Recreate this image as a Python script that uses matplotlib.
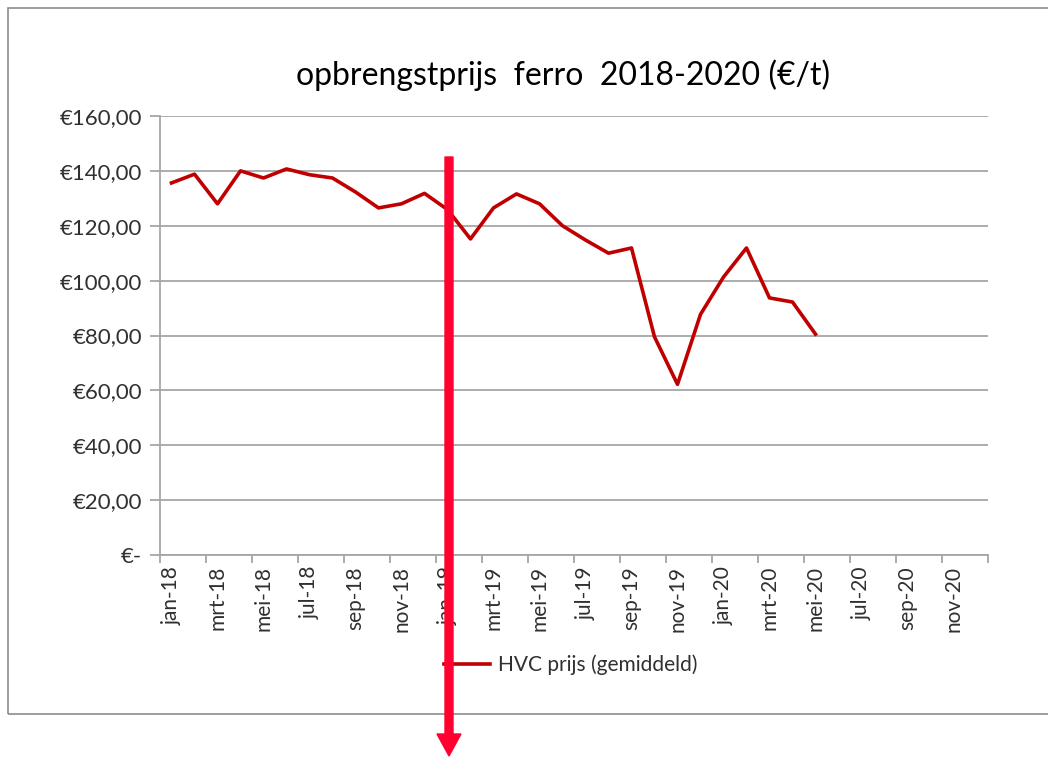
import matplotlib
matplotlib.use("Agg")
import matplotlib.pyplot as plt
from matplotlib.patches import Rectangle, FancyArrow

plt.rcParams['font.family'] = ['Lato', 'DejaVu Sans']

# maanden jan-18 t/m dec-20
months = ['jan', 'feb', 'mrt', 'apr', 'mei', 'jun', 'jul', 'aug', 'sep', 'okt', 'nov', 'dec']
categories = [m + '-' + y for y in ['18', '19', '20'] for m in months]

# HVC prijs (gemiddeld), jan-18 t/m mei-20
prices = [135.6, 138.8, 128.0, 140.0, 137.4, 140.7, 138.6, 137.4, 132.3, 126.5,
          128.0, 131.8, 125.9, 115.2, 126.5, 131.6, 128.0, 120.0, 114.8, 110.0,
          111.9, 79.5, 62.2, 87.7, 101.3, 111.9, 93.7, 92.2, 80.5]

yticks = [0, 20, 40, 60, 80, 100, 120, 140, 160]
ytick_labels = ['€-', '€20,00', '€40,00', '€60,00', '€80,00', '€100,00',
                '€120,00', '€140,00', '€160,00']

W, H = 1048, 757
fig = plt.figure(figsize=(W / 100, H / 100), dpi=100)
ax = fig.add_axes([160 / W, 1 - 555 / H, 828 / W, 439 / H])

grid_col = '#a6a6a6'
ax.plot(range(len(prices)), prices, color='#c00000', linewidth=2.6,
        label='HVC prijs (gemiddeld)', zorder=3)

ax.set_xlim(-0.5, len(categories) - 0.5)
ax.set_ylim(0, 160)
ax.set_yticks(yticks)
ax.set_yticklabels(ytick_labels)
ax.yaxis.grid(True, color=grid_col, linewidth=1.3)
ax.set_axisbelow(True)

# labels op elke tweede maand, streepjes op de grenzen
ax.set_xticks(range(0, len(categories), 2))
ax.set_xticklabels(categories[::2], rotation=90)
ax.set_xticks([i - 0.5 for i in range(0, len(categories) + 1, 2)], minor=True)
ax.tick_params(axis='x', which='major', length=0, pad=8, labelsize=15, colors='#303030')
ax.tick_params(axis='x', which='minor', length=6, color=grid_col, width=1.3)
ax.tick_params(axis='y', length=7, color=grid_col, width=1.3, labelsize=16,
               labelcolor='#303030', pad=6)

for s in ['top', 'right']:
    ax.spines[s].set_visible(False)
for s in ['left', 'bottom']:
    ax.spines[s].set_color(grid_col)
    ax.spines[s].set_linewidth(1.3)

fig.text(563 / W, 1 - 75 / H, 'opbrengstprijs  ferro  2018-2020 (€/t)',
         ha='center', va='center', fontsize=23, color='#000000')

ax.legend(loc='center', bbox_to_anchor=(571 / W, 1 - 665 / H),
          bbox_transform=fig.transFigure, frameon=False, fontsize=15,
          handlelength=2.2, handletextpad=0.4, labelcolor='#303030')

# kader rond de grafiek
fig.add_artist(Rectangle((8 / W, 1 - 714 / H), 1.0, 706 / H, transform=fig.transFigure,
                         fill=False, edgecolor='#8c8c8c', linewidth=1.2))

# rode pijl
fig.add_artist(FancyArrow(4.49, (H - 157) / 100, 0, -(H - 157) / 100 + 0.01,
                          width=0.08, head_width=0.24, head_length=0.22,
                          length_includes_head=True, color='#ff0030',
                          transform=fig.dpi_scale_trans, zorder=5))

fig.savefig('out.png', dpi=100)
